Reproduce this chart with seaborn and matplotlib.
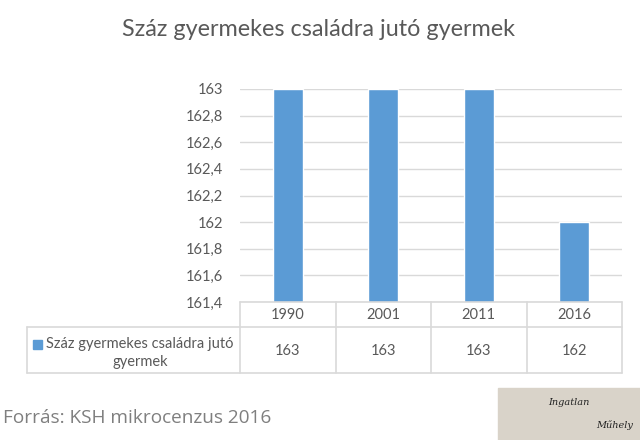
import matplotlib
matplotlib.use("Agg")
import matplotlib.pyplot as plt
import seaborn as sns
import pandas as pd
from matplotlib.patches import Rectangle
from matplotlib.lines import Line2D

years = ["1990", "2001", "2011", "2016"]
values = [163, 163, 163, 162]
series_name = "Száz gyermekes családra jutó gyermek"
yticks = [161.4, 161.6, 161.8, 162.0, 162.2, 162.4, 162.6, 162.8, 163.0]

sns.set_theme(style="white")
plt.rcParams['font.family'] = ['Lato', 'DejaVu Sans']

BLUE = "#5b9bd5"
GRID = "#d9d9d9"
TXT = "#595959"
FS = 10.5

W, H = 640, 440
fig = plt.figure(figsize=(6.4, 4.4), dpi=100)
ax = fig.add_axes([240 / W, 1 - 302 / H, 382 / W, 213 / H])

df = pd.DataFrame({"year": years, "value": values})
sns.barplot(data=df, x="year", y="value", color=BLUE, width=0.31,
            saturation=1, ax=ax)
ax.set_ylim(161.4, 163)
ax.set_yticks(yticks)
ax.set_yticklabels([("%g" % t).replace(".", ",") for t in yticks],
                   color=TXT, fontsize=FS)
ax.tick_params(axis="y", length=0, pad=12)
ax.set_xticks([])
ax.set_xlabel("")
ax.set_ylabel("")
ax.grid(axis="y", color=GRID, linewidth=1)
ax.set_axisbelow(True)
for s in ax.spines.values():
    s.set_visible(False)

# data table under the chart
def hline(y, x0, x1):
    fig.add_artist(Line2D([x0 / W, x1 / W], [1 - y / H, 1 - y / H],
                          color=GRID, lw=1.2))

def vline(x, y0, y1):
    fig.add_artist(Line2D([x / W, x / W], [1 - y0 / H, 1 - y1 / H],
                          color=GRID, lw=1.2))

left, right = 240, 622
top, mid, bot = 302, 327, 373
tleft = 27
hline(top, left, right)
hline(mid, tleft, right)
hline(bot, tleft, right)
vline(tleft, mid, bot)
col_w = (right - left) / len(years)
for i in range(len(years) + 1):
    vline(left + i * col_w, top, bot)
for i, (yr, v) in enumerate(zip(years, values)):
    cx = (left + (i + 0.5) * col_w) / W
    fig.text(cx, 1 - 315 / H, yr, ha="center", va="center", color=TXT, fontsize=FS)
    fig.text(cx, 1 - 351 / H, str(v), ha="center", va="center", color=TXT, fontsize=FS)

fig.add_artist(Rectangle((33 / W, 1 - 349 / H), 9 / W, 9 / H, color=BLUE,
                         transform=fig.transFigure))
words = series_name.split(" ")
fig.text(46 / W, 1 - 344 / H, " ".join(words[:-1]), ha="left", va="center",
         color=TXT, fontsize=FS)
fig.text(140 / W, 1 - 362 / H, words[-1], ha="center", va="center",
         color=TXT, fontsize=FS)

fig.text(318 / W, 1 - 30 / H, series_name, ha="center", va="center",
         color=TXT, fontsize=16.8)
fig.text(3 / W, 1 - 418 / H, "Forrás: KSH mikrocenzus 2016", ha="left",
         va="center", color="#7f7f7f", fontsize=13.7, family=["Open Sans", "DejaVu Sans"])

# logo patch in the corner
fig.add_artist(Rectangle((498 / W, 0), 142 / W, 52 / H, color="#d9d3c9",
                         transform=fig.transFigure))
fig.text(548 / W, 1 - 402 / H, "Ingatlan", ha="left", va="center", color="#222222",
         fontsize=7, style="italic", family=["DejaVu Serif"])
fig.text(596 / W, 1 - 425 / H, "Műhely", ha="left", va="center", color="#222222",
         fontsize=7, style="italic", family=["DejaVu Serif"])

fig.savefig("out.png", dpi=100, facecolor="white")
